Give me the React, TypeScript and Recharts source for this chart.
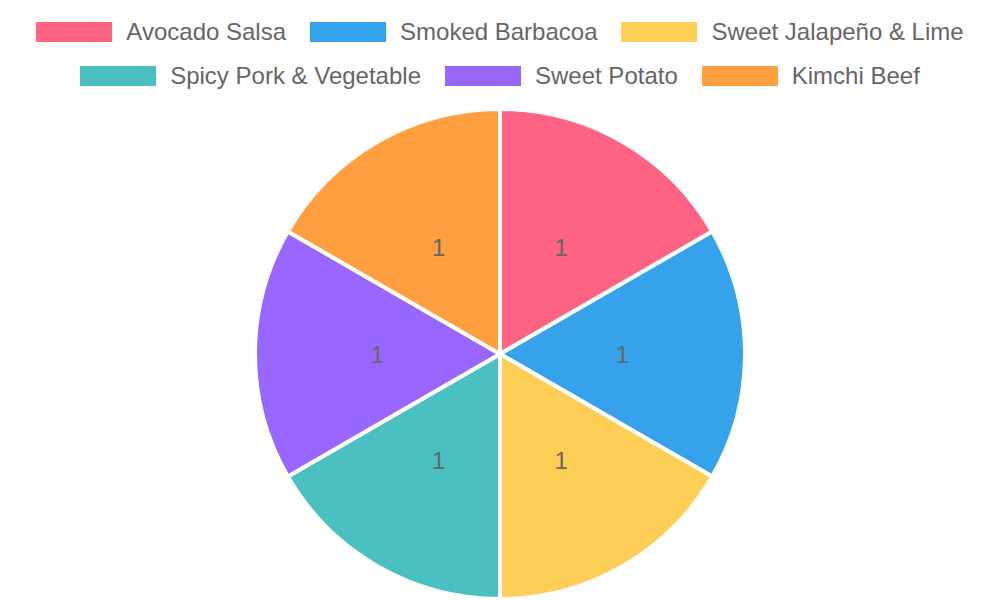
import React from 'react';
import { PieChart, Pie, Cell, Legend } from 'recharts';

const flavours = [
  'Avocado Salsa',
  'Smoked Barbacoa',
  'Sweet Jalapeño & Lime',
  'Spicy Pork & Vegetable',
  'Sweet Potato',
  'Kimchi Beef',
];
const counts = [1, 1, 1, 1, 1, 1];
const colours = ['#FF6384', '#36A2EB', '#FFCE56', '#4BC0C0', '#9966FF', '#FF9F40'];

const data = flavours.map((name, i) => ({ name, value: counts[i] }));

const RADIAN = Math.PI / 180;
const FONT = '"Liberation Sans", Arial, Helvetica, sans-serif';

// Draw the count halfway along each slice
const renderLabel = (props: any) => {
  const { cx, cy, midAngle, outerRadius, value } = props;
  const r = outerRadius * 0.5;
  const x = cx + r * Math.cos(-midAngle * RADIAN);
  const y = cy + r * Math.sin(-midAngle * RADIAN);
  return (
    <text
      x={x}
      y={y}
      fill="#666"
      textAnchor="middle"
      dominantBaseline="central"
      style={{ fontFamily: FONT, fontSize: 24 }}
    >
      {value}
    </text>
  );
};

// Two centred rows, like the original legend
const renderLegend = () => {
  const rows = [flavours.slice(0, 3), flavours.slice(3)];
  return (
    <div style={{ paddingTop: 10, height: 88, fontFamily: FONT }}>
      {rows.map((row, ri) => (
        <div
          key={ri}
          style={{ display: 'flex', justifyContent: 'center', alignItems: 'center', height: 44, gap: 24 }}
        >
          {row.map((name) => {
            const idx = flavours.indexOf(name);
            return (
              <div key={name} style={{ display: 'flex', alignItems: 'center' }}>
                <span style={{ width: 76, height: 20, background: colours[idx], marginRight: 14, display: 'inline-block' }} />
                <span style={{ color: '#666', fontSize: 24, lineHeight: '24px' }}>{name}</span>
              </div>
            );
          })}
        </div>
      ))}
    </div>
  );
};

export default function App() {
  return (
    <div style={{ position: 'absolute', left: 0, top: 0, width: 1000, height: 600, background: '#fff' }}>
      <PieChart width={1000} height={600} margin={{ top: 0, right: 0, bottom: 0, left: 0 }}>
        <Legend verticalAlign="top" align="center" content={renderLegend} />
        <Pie
          data={data}
          dataKey="value"
          nameKey="name"
          cx={500}
          cy={256}
          outerRadius={245}
          startAngle={90}
          endAngle={-270}
          stroke="#fff"
          strokeWidth={4}
          label={renderLabel}
          labelLine={false}
          isAnimationActive={false}
        >
          {data.map((d, i) => (
            <Cell key={d.name} fill={colours[i]} />
          ))}
        </Pie>
      </PieChart>
    </div>
  );
}
